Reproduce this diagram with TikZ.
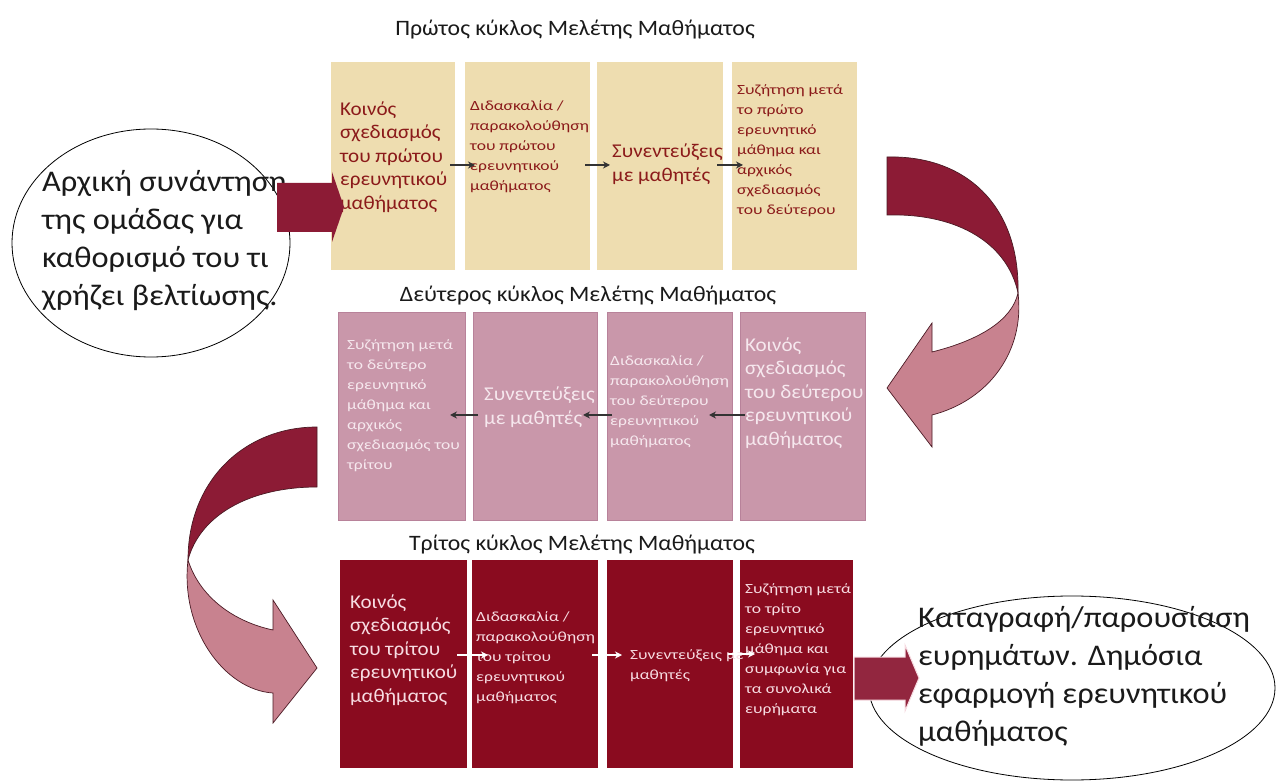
\documentclass[tikz,border=0pt]{standalone}
\usepackage{fontspec}
\setmainfont{Carlito}[FakeStretch=1.08]
\newfontfamily\tinyfam{Carlito}[FakeStretch=1.25]
\usetikzlibrary{shapes.geometric,arrows.meta}
\definecolor{beige}{HTML}{EEDDB0}
\definecolor{rowonetext}{HTML}{8B1A1A}
\definecolor{mauve}{HTML}{C997AA}
\definecolor{mauveedge}{HTML}{B8829A}
\definecolor{mauvetext}{HTML}{F6E8EE}
\definecolor{crimson}{HTML}{8A0B1F}
\definecolor{crimsontext}{HTML}{F7DCE2}
\definecolor{arrowdark}{HTML}{8C1B35}
\definecolor{arrowlight}{HTML}{C8828F}
\definecolor{arrowedge}{HTML}{4A1A24}
\definecolor{titlegray}{HTML}{1A1A1A}
\tikzset{
  boxbase/.style={inner sep=0pt, outer sep=0pt, minimum height=208pt},
  boxone/.style={boxbase, fill=beige},
  boxtwo/.style={boxbase, fill=mauve, draw=mauveedge, line width=0.8pt},
  boxthree/.style={boxbase, fill=crimson},
  bigtxt/.style={inner sep=0pt, anchor=west, align=left, font=\fontsize{19.5}{23.5}\selectfont},
  smalltxt/.style={inner sep=0pt, anchor=west, align=left, font=\tinyfam\fontsize{14}{20}\selectfont},
  titletxt/.style={inner sep=0pt, text=titlegray, font=\fontsize{22}{25}\selectfont},
  circtxt/.style={inner sep=0pt, anchor=west, align=left, text=titlegray, font=\fontsize{30}{38}\selectfont},
  smallarr/.style={-{Stealth[length=7pt,width=7pt]}, line width=1.3pt},
  curvedark/.style={fill=arrowdark, draw=arrowedge, line width=0.7pt},
  curvelight/.style={fill=arrowlight, draw=arrowedge, line width=0.7pt},
}
\begin{document}
\begin{tikzpicture}[x=1pt,y=-1pt]
\useasboundingbox (0,0) rectangle (1278,783);
\fill[white] (0,0) rectangle (1278,783);

% titles
\node[titletxt] (t1) at (575,30) {Πρώτος κύκλος Μελέτης Μαθήματος};
\node[titletxt] (t2) at (588,296) {Δεύτερος κύκλος Μελέτης Μαθήματος};
\node[titletxt] (t3) at (582,545) {Τρίτος κύκλος Μελέτης Μαθήματος};

% row 1
\node[boxone, minimum width=124pt] (r1b1) at (393,166) {};
\node[boxone, minimum width=125pt] (r1b2) at (527.5,166) {};
\node[boxone, minimum width=126pt] (r1b3) at (660,166) {};
\node[boxone, minimum width=125pt] (r1b4) at (794.5,166) {};
\node[bigtxt, text=rowonetext] (r1t1) at (340,157) {Κοινός\\σχεδιασμός\\του πρώτου\\ερευνητικού\\μαθήματος};
\node[smalltxt, text=rowonetext] (r1t2) at (470,147) {Διδασκαλία /\\παρακολούθηση\\του πρώτου\\ερευνητικού\\μαθήματος};
\node[bigtxt, text=rowonetext] (r1t3) at (612,164) {Συνεντεύξεις\\με μαθητές};
\node[smalltxt, text=rowonetext] (r1t4) at (737,151) {Συζήτηση μετά\\το πρώτο\\ερευνητικό\\μάθημα και\\αρχικός\\σχεδιασμός\\του δεύτερου};

% row 2
\node[boxtwo, minimum width=127pt] (r2b1) at (401.5,416) {};
\node[boxtwo, minimum width=124pt] (r2b2) at (535,416) {};
\node[boxtwo, minimum width=125pt] (r2b3) at (669.5,416) {};
\node[boxtwo, minimum width=125pt] (r2b4) at (802.5,416) {};
\node[smalltxt, text=mauvetext] (r2t1) at (347,406) {Συζήτηση μετά\\το δεύτερο\\ερευνητικό\\μάθημα και\\αρχικός\\σχεδιασμός του\\τρίτου};
\node[bigtxt, text=mauvetext] (r2t2) at (484,407) {Συνεντεύξεις\\με μαθητές};
\node[smalltxt, text=mauvetext] (r2t3) at (610,402) {Διδασκαλία /\\παρακολούθηση\\του δεύτερου\\ερευνητικού\\μαθήματος};
\node[bigtxt, text=mauvetext] (r2t4) at (745,393) {Κοινός\\σχεδιασμός\\του δεύτερου\\ερευνητικού\\μαθήματος};

% row 3
\node[boxthree, minimum width=127pt] (r3b1) at (403.5,664) {};
\node[boxthree, minimum width=126pt] (r3b2) at (535,664) {};
\node[boxthree, minimum width=126pt] (r3b3) at (670,664) {};
\node[boxthree, minimum width=113pt] (r3b4) at (796.5,664) {};
\node[bigtxt, text=crimsontext] (r3t1) at (350,650) {Κοινός\\σχεδιασμός\\του τρίτου\\ερευνητικού\\μαθήματος};
\node[smalltxt, text=crimsontext] (r3t2) at (476,658) {Διδασκαλία /\\παρακολούθηση\\του τρίτου\\ερευνητικού\\μαθήματος};
\node[smalltxt, text=crimsontext] (r3t3) at (630,666) {Συνεντεύξεις με\\μαθητές};
\node[smalltxt, text=crimsontext] (r3t4) at (745,650) {Συζήτηση μετά\\το τρίτο\\ερευνητικό\\μάθημα και\\συμφωνία για\\τα συνολικά\\ευρήματα};

% small arrows
\draw[smallarr, draw=black!80] ([xshift=-5pt,yshift=1pt]r1b1.east) -- ([xshift=10pt,yshift=1pt]r1b2.west);
\draw[smallarr, draw=black!80] ([xshift=-5pt,yshift=1pt]r1b2.east) -- ([xshift=13pt,yshift=1pt]r1b3.west);
\draw[smallarr, draw=black!80] ([xshift=-6pt,yshift=1pt]r1b3.east) -- ([xshift=11pt,yshift=1pt]r1b4.west);
\draw[smallarr, draw=black!80] ([xshift=5pt,yshift=1pt]r2b4.west) -- ([xshift=-23pt,yshift=1pt]r2b3.east);
\draw[smallarr, draw=black!80] ([xshift=5pt,yshift=1pt]r2b3.west) -- ([xshift=-14pt,yshift=1pt]r2b2.east);
\draw[smallarr, draw=black!80] ([xshift=5pt,yshift=1pt]r2b2.west) -- ([xshift=-15pt,yshift=1pt]r2b1.east);
\draw[smallarr, draw=white] ([xshift=-10pt,yshift=9pt]r3b1.east) -- ([xshift=16pt,yshift=9pt]r3b2.west);
\draw[smallarr, draw=white] ([xshift=-6pt,yshift=9pt]r3b2.east) -- ([xshift=15pt,yshift=9pt]r3b3.west);
\draw[smallarr, draw=white] ([xshift=-5pt,yshift=10pt]r3b3.east) -- ([xshift=15pt,yshift=10pt]r3b4.west);

% start ellipse
\node[ellipse, draw=black, line width=0.8pt, minimum width=278pt, minimum height=228pt, inner sep=0pt] (start) at (151,243) {};
\node[circtxt] (starttxt) at (42,241) {Αρχική συνάντηση\\της ομάδας για\\καθορισμό του τι\\χρήζει βελτίωσης.};

% end ellipse
\node[ellipse, draw=black, line width=0.8pt, minimum width=406pt, minimum height=184pt, inner sep=0pt] (finish) at (1072,688) {};
\node[circtxt] (finishtxt) at (918,676) {Καταγραφή/παρουσίαση\\ευρημάτων. Δημόσια\\εφαρμογή ερευνητικού\\μαθήματος};

% block arrow start -> row 1
\fill[arrowdark] (277,183) -- (332,183) -- (332,172) -- (344,207) -- (332,242) -- (332,232) -- (277,232) -- cycle;

% block arrow row 3 -> finish
\draw[fill=arrowdark!95!white, draw=crimsontext, line width=1pt] (854,657) -- (905,657) -- (905,645) -- (919,678) -- (905,711) -- (905,700) -- (854,700) -- cycle;

% curved arrow row 1 -> row 2 (right side)
\draw[curvedark] (887,157) .. controls (965,155) and (1020,205) .. (1018,293)
   .. controls (1008,245) and (960,213) .. (887,215) -- cycle;
\draw[curvelight] (1018,293) .. controls (1025,350) and (990,400) .. (932,415)
   -- (932,447) -- (887,388) -- (932,323) -- (932,352)
   .. controls (980,340) and (1012,320) .. (1018,293) -- cycle;

% curved arrow row 2 -> row 3 (left side)
\draw[curvedark] (317,427) .. controls (245,427) and (188,480) .. (188,560)
   .. controls (200,515) and (250,487) .. (317,487) -- cycle;
\draw[curvelight] (188,560) .. controls (180,630) and (225,690) .. (273,693)
   -- (273,723) -- (317,668) -- (273,600) -- (273,630)
   .. controls (235,622) and (200,598) .. (188,560) -- cycle;
\end{tikzpicture}
\end{document}
